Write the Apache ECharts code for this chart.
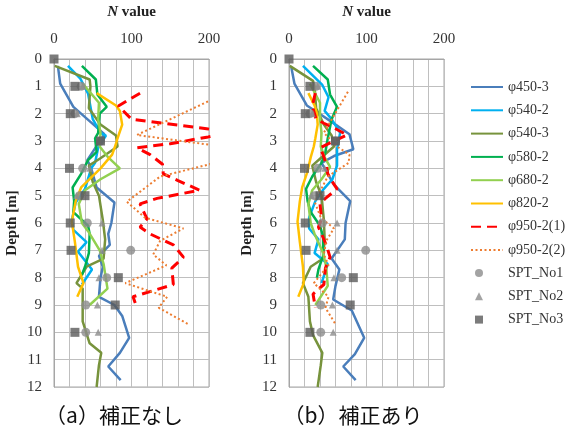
<!DOCTYPE html>
<html><head><meta charset="utf-8">
<script src="https://cdn.jsdelivr.net/npm/echarts@6/dist/echarts.min.js"></script>
<style>html,body{margin:0;padding:0;background:#fff}#c{width:568px;height:435px}</style>
</head><body><div id="c"></div>
<script>
// ---- data: [N value, depth m] ----
const seriesNames = ['φ450-3','φ540-2','φ540-3','φ580-2','φ680-2','φ820-2','φ950-2(1)','φ950-2(2)'];
const xTicks = [0,100,200];
const depthTicks = [0,1,2,3,4,5,6,7,8,9,10,11,12];
const captions = ['（a）補正なし','（b）補正あり'];

// panel (a) without correction
const a450_3 = [[5,0.25],[8,0.9],[25,1.75],[65,2.75],[43,3.7],[48,4.0],[55,4.7],[78,5.25],[74,6.0],[70,6.4],[72,6.8],[58,7.2],[63,7.6],[60,8.0],[58,8.7],[78,9.0],[88,9.4],[97,10.2],[85,10.75],[70,11.25],[86,11.75]];
const a540_2 = [[18,0.25],[34,0.72],[44,1.27],[50,2.2],[60,2.7],[67,2.8],[57,3.25],[53,3.8],[48,4.0],[40,4.75],[28,5.25],[23,5.9],[25,6.25],[42,6.7],[31,7.05],[49,7.7],[36,8.25]];
const a540_3 = [[1,0.25],[46,0.75],[47,1.0],[45,1.8],[60,2.4],[80,2.8],[82,3.2],[59,3.65],[45,3.9],[50,4.5],[58,5.0],[63,5.9],[66,6.6],[64,7.3],[42,7.6],[29,8.2],[37,8.4],[37,9.6],[46,10.4],[61,10.75],[58,11.2],[55,12]];
const a580_2 = [[36,0.25],[54,0.75],[56,1.3],[68,1.75],[59,2.0],[57,2.7],[53,2.9],[55,3.4],[44,3.7],[35,4.2],[24,4.7],[26,5.2],[25,5.6],[44,6.1],[46,6.4],[45,7.1],[40,7.6],[36,7.9]];
const a680_2 = [[37,0.9],[58,1.6],[57,2.2],[60,2.7],[59,3.2],[70,3.6],[85,4.0],[60,4.4],[40,4.8],[32,5.3],[36,6.0],[44,6.3],[59,7.0],[64,7.5],[69,8.4],[46,9.0]];
const a820_2 = [[55,1.25],[80,1.7],[85,1.9],[88,2.4],[82,2.9],[80,3.1],[75,3.5],[60,4.0],[35,4.7],[28,5.2],[23,5.95],[27,6.7],[31,7.6],[38,8.2],[30,8.7]];
const a950_1 = [[111,1.25],[83,1.72],[100,2.2],[140,2.35],[197,2.55],[225,2.7],[199,2.85],[150,3.1],[107,3.25],[124,3.5],[140,3.85],[141,4.2],[160,4.45],[188,4.8],[133,5.1],[111,5.3],[120,5.85],[111,6.15],[124,6.4],[154,6.8],[167,7.25],[152,7.65],[154,8.25],[102,8.7],[107,9.1]];
const a950_2 = [[225,1.2],[107,2.78],[230,3.25],[215,3.75],[137,4.3],[94,5.22],[117,5.8],[167,6.2],[137,6.65],[128,7.15],[145,7.55],[92,8.2],[146,8.7],[135,9.1],[173,9.7]];

// panel (b) with correction
const b450_3 = [[3,0.3],[7,0.9],[23,1.7],[34,1.9],[55,2.3],[78,2.75],[83,3.3],[58,3.55],[42,3.8],[48,4.1],[58,4.6],[79,5.2],[73,6.0],[72,6.6],[55,7.3],[65,7.7],[60,8.3],[57,8.8],[81,9.2],[97,10.2],[85,10.8],[70,11.25],[86,11.75]];
const b540_2 = [[18,0.25],[43,0.95],[51,1.4],[46,1.9],[55,2.2],[66,2.7],[62,3.3],[62,3.9],[56,4.4],[45,4.75],[34,5.2],[26,5.8],[26,6.2],[38,6.6],[33,7.1],[50,7.5],[42,8.2]];
const b540_3 = [[1,0.25],[31,0.8],[33,1.0],[35,1.8],[45,2.4],[55,2.8],[58,3.2],[40,3.65],[30,3.9],[35,4.5],[42,5.0],[45,5.9],[46,6.6],[44,7.3],[28,7.6],[18,8.2],[25,8.7],[27,9.6],[31,10.1],[43,10.75],[41,11.2],[37,12]];
const b580_2 = [[31,0.25],[50,0.75],[53,1.3],[62,1.75],[55,2.2],[50,2.9],[47,3.4],[42,3.8],[30,4.3],[22,4.75],[24,5.2],[28,5.6],[40,6.1],[44,6.5],[44,7.2],[38,7.7],[36,8.0]];
const b680_2 = [[27,0.9],[40,1.6],[40,2.2],[42,2.7],[41,3.2],[46,3.6],[53,3.95],[42,4.4],[30,4.8],[25,5.3],[28,6.0],[33,6.4],[44,7.1],[48,7.6],[50,8.3],[34,9.0]];
const b820_2 = [[25,1.25],[33,1.7],[36,2.0],[37,2.4],[34,2.9],[32,3.2],[28,3.6],[24,4.1],[17,4.7],[14,5.2],[11,5.95],[14,6.7],[18,7.6],[19,8.2],[12,8.7]];
const b950_1 = [[34,1.25],[30,1.72],[35,2.2],[45,2.35],[60,2.55],[75,2.78],[58,3.0],[40,3.25],[44,3.5],[48,3.85],[50,4.2],[55,4.45],[62,4.75],[47,5.1],[40,5.3],[42,5.85],[38,6.15],[42,6.4],[48,6.8],[53,7.25],[47,7.65],[45,8.25],[31,8.6],[34,9.1]];
const b950_2 = [[76,1.2],[45,2.7],[62,3.2],[78,3.5],[77,3.8],[50,4.3],[33,5.22],[41,5.8],[58,6.2],[48,6.65],[45,7.15],[51,7.55],[32,8.2],[51,8.7],[47,9.1],[60,9.7]];

// SPT (same in both panels)
const sptDepth = [0,1,2,3,4,5,6,7,8,9,10];
const spt1 = [null,35,27,60,37,33,43,99,68,41,41];
const spt2 = [null,37,30,58,46,29,62,62,58,56,57];
const spt3 = [0,27,21,60,20,40,21,22,83,79,27];

// ---- styling ----
const colors = ['#4a7ebb','#00b0f0','#77933c','#00b050','#92d050','#ffc000','#ff0000','#ed7d31'];
const lineTypes = ['solid','solid','solid','solid','solid','solid',[10,6],[2,2.5]];
const lineWidths = [2.5,2.5,2.5,2.5,2.5,2.5,3,2];
const serif = 'Liberation Serif';
const panelData = [
  [a450_3,a540_2,a540_3,a580_2,a680_2,a820_2,a950_1,a950_2],
  [b450_3,b540_2,b540_3,b580_2,b680_2,b820_2,b950_1,b950_2]
];
const gridLefts = [54, 289];

function sptPts(arr){ const out=[]; sptDepth.forEach((d,i)=>{ if(arr[i]!=null) out.push([arr[i],d]); }); return out; }

const grids=[], xAxes=[], yAxes=[], series=[], graphics=[];
for (let p=0;p<2;p++){
  grids.push({left:gridLefts[p], top:55, width:155, height:332, show:true, borderColor:'#a6a6a6', borderWidth:1, backgroundColor:'#fff'});
  xAxes.push({type:'value', gridIndex:p, position:'top', min:0, max:200, interval:20,
    name:'{i|N} value', nameLocation:'middle', nameGap:39,
    nameTextStyle:{fontFamily:serif, fontSize:15, fontWeight:'bold', color:'#222',
      rich:{i:{fontStyle:'italic', fontWeight:'bold', fontFamily:serif, fontSize:15, color:'#222'}}},
    axisLine:{show:true, lineStyle:{color:'#a6a6a6'}}, axisTick:{show:false},
    axisLabel:{margin:12, fontFamily:serif, fontSize:15, color:'#333',
      formatter:v=> xTicks.indexOf(v)>=0 ? String(v) : ''},
    splitLine:{show:true, lineStyle:{color:'#bfbfbf', width:1}}});
  yAxes.push({type:'value', gridIndex:p, inverse:true, min:0, max:12, interval:1,
    name:'Depth [m]', nameLocation:'middle', nameGap:34,
    nameTextStyle:{fontFamily:serif, fontSize:15, fontWeight:'bold', color:'#222'},
    axisLine:{show:true, lineStyle:{color:'#a6a6a6'}}, axisTick:{show:false},
    axisLabel:{margin:12, fontFamily:serif, fontSize:15, color:'#333',
      formatter:v=> depthTicks.indexOf(v)>=0 ? String(v) : ''},
    splitLine:{show:true, lineStyle:{color:'#bfbfbf', width:1}}});
  panelData[p].forEach((d,k)=>{
    series.push({type:'line', name:seriesNames[k], xAxisIndex:p, yAxisIndex:p, data:d,
      symbol:'none', clip:true, z:2+k*0.01,
      lineStyle:{color:colors[k], width:lineWidths[k], type:lineTypes[k]},
      itemStyle:{color:colors[k]}});
  });
  series.push({type:'scatter', name:'SPT_No1', xAxisIndex:p, yAxisIndex:p, data:sptPts(spt1), symbol:'circle', symbolSize:9, itemStyle:{color:'#8c8c8c'}, z:5});
  series.push({type:'scatter', name:'SPT_No2', xAxisIndex:p, yAxisIndex:p, data:sptPts(spt2), symbol:'triangle', symbolSize:7, itemStyle:{color:'#8c8c8c'}, z:5});
  series.push({type:'scatter', name:'SPT_No3', xAxisIndex:p, yAxisIndex:p, data:sptPts(spt3), symbol:'rect', symbolSize:9, itemStyle:{color:'#5a5a5a'}, z:5});
}
graphics.push({type:'text', x:114, y:415, style:{text:captions[0], fontSize:21, fontFamily:'Noto Sans CJK JP', fill:'#111', align:'center', verticalAlign:'middle'}});
graphics.push({type:'text', x:353, y:415, style:{text:captions[1], fontSize:21, fontFamily:'Noto Sans CJK JP', fill:'#111', align:'center', verticalAlign:'middle'}});

const chart = echarts.init(document.getElementById('c'), null, {renderer:'canvas'});
chart.setOption({
  animation:false,
  backgroundColor:'#fff',
  grid:grids, xAxis:xAxes, yAxis:yAxes, series:series, graphic:graphics,
  legend:[
    {data:seriesNames, orient:'vertical', left:470, top:79, padding:0, itemWidth:32, itemHeight:14, itemGap:7.3,
      itemStyle:{opacity:0, color:'transparent', borderWidth:0},
      textStyle:{fontFamily:serif, fontSize:14, lineHeight:16, color:'#333'}},
    {data:['SPT_No1','SPT_No2','SPT_No3'], orient:'vertical', left:475, top:265, padding:0, itemWidth:8, itemHeight:8, itemGap:7.3,
      textStyle:{fontFamily:serif, fontSize:14, lineHeight:16, color:'#333', padding:[0,0,0,20]}}
  ]
});
</script></body></html>
